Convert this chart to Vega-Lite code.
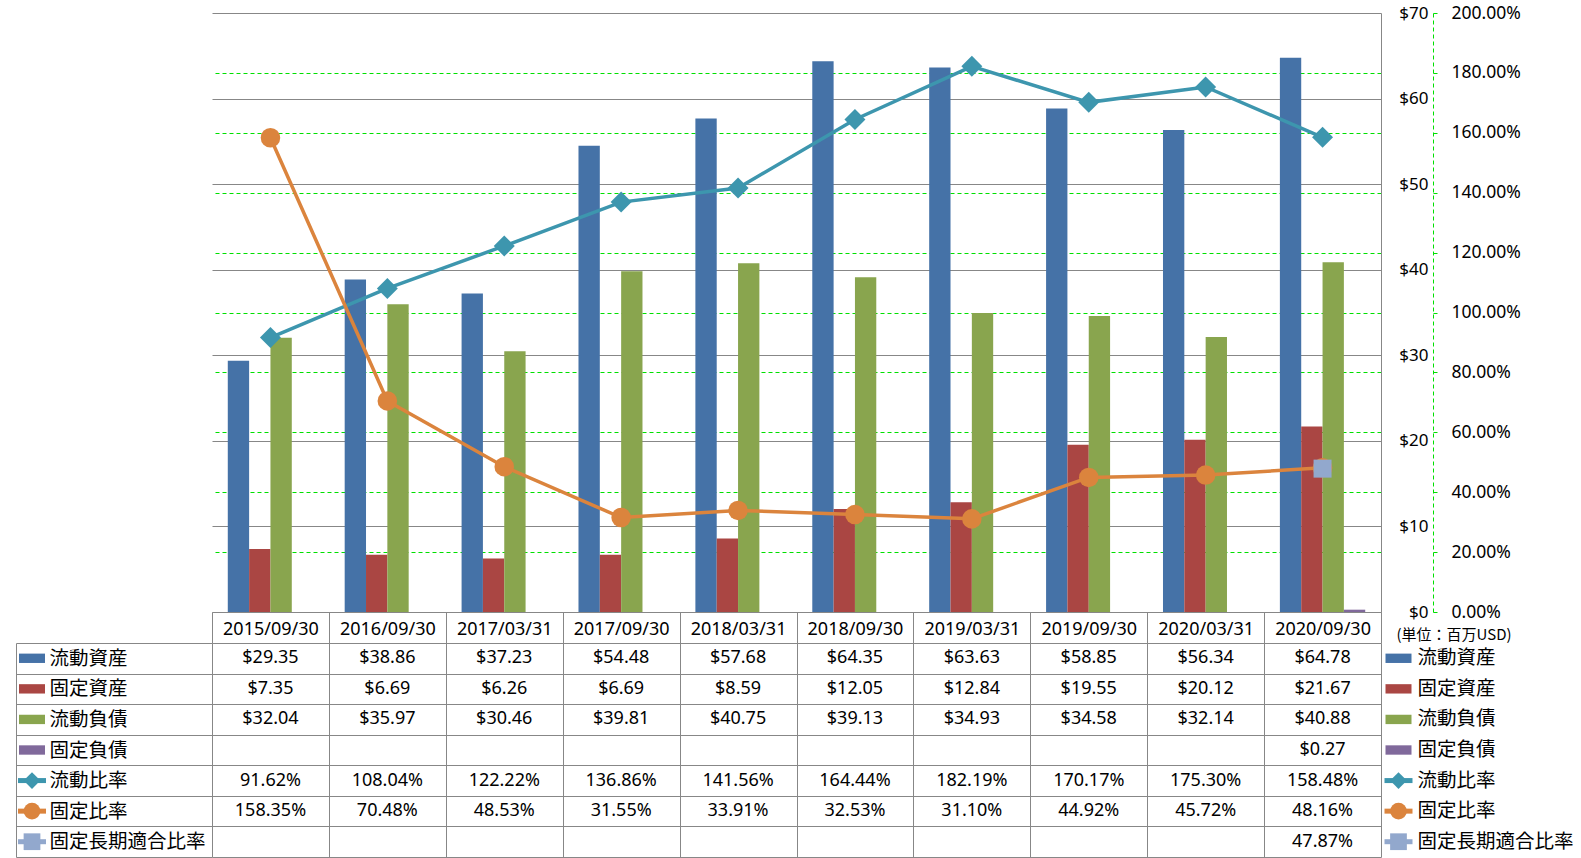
{
  "$schema": "https://vega.github.io/schema/vega-lite/v6.json",
  "padding": {"left": 8, "top": 4, "right": 0, "bottom": 0},
  "background": "white",
  "columns": 3,
  "spacing": 0,
  "bounds": "flush",
  "align": "each",
  "config": {
    "view": {"stroke": null},
    "font": "Noto Sans, Noto Sans CJK JP, sans-serif",
    "axis": {"labelColor": "black", "titleColor": "black", "labelFont": "Noto Sans, Noto Sans CJK JP, sans-serif", "titleFont": "Noto Sans CJK JP, sans-serif"}
  },
  "datasets": {
    "main": [
      {"date": "2015/09/30", "series": "流動資産", "value": 29.35},
      {"date": "2016/09/30", "series": "流動資産", "value": 38.86},
      {"date": "2017/03/31", "series": "流動資産", "value": 37.23},
      {"date": "2017/09/30", "series": "流動資産", "value": 54.48},
      {"date": "2018/03/31", "series": "流動資産", "value": 57.68},
      {"date": "2018/09/30", "series": "流動資産", "value": 64.35},
      {"date": "2019/03/31", "series": "流動資産", "value": 63.63},
      {"date": "2019/09/30", "series": "流動資産", "value": 58.85},
      {"date": "2020/03/31", "series": "流動資産", "value": 56.34},
      {"date": "2020/09/30", "series": "流動資産", "value": 64.78},
      {"date": "2015/09/30", "series": "固定資産", "value": 7.35},
      {"date": "2016/09/30", "series": "固定資産", "value": 6.69},
      {"date": "2017/03/31", "series": "固定資産", "value": 6.26},
      {"date": "2017/09/30", "series": "固定資産", "value": 6.69},
      {"date": "2018/03/31", "series": "固定資産", "value": 8.59},
      {"date": "2018/09/30", "series": "固定資産", "value": 12.05},
      {"date": "2019/03/31", "series": "固定資産", "value": 12.84},
      {"date": "2019/09/30", "series": "固定資産", "value": 19.55},
      {"date": "2020/03/31", "series": "固定資産", "value": 20.12},
      {"date": "2020/09/30", "series": "固定資産", "value": 21.67},
      {"date": "2015/09/30", "series": "流動負債", "value": 32.04},
      {"date": "2016/09/30", "series": "流動負債", "value": 35.97},
      {"date": "2017/03/31", "series": "流動負債", "value": 30.46},
      {"date": "2017/09/30", "series": "流動負債", "value": 39.81},
      {"date": "2018/03/31", "series": "流動負債", "value": 40.75},
      {"date": "2018/09/30", "series": "流動負債", "value": 39.13},
      {"date": "2019/03/31", "series": "流動負債", "value": 34.93},
      {"date": "2019/09/30", "series": "流動負債", "value": 34.58},
      {"date": "2020/03/31", "series": "流動負債", "value": 32.14},
      {"date": "2020/09/30", "series": "流動負債", "value": 40.88},
      {"date": "2020/09/30", "series": "固定負債", "value": 0.27},
      {"date": "2015/09/30", "series": "流動比率", "value": 0.9162},
      {"date": "2016/09/30", "series": "流動比率", "value": 1.0804},
      {"date": "2017/03/31", "series": "流動比率", "value": 1.2222},
      {"date": "2017/09/30", "series": "流動比率", "value": 1.3686},
      {"date": "2018/03/31", "series": "流動比率", "value": 1.4156},
      {"date": "2018/09/30", "series": "流動比率", "value": 1.6444},
      {"date": "2019/03/31", "series": "流動比率", "value": 1.8219},
      {"date": "2019/09/30", "series": "流動比率", "value": 1.7017},
      {"date": "2020/03/31", "series": "流動比率", "value": 1.7530},
      {"date": "2020/09/30", "series": "流動比率", "value": 1.5848},
      {"date": "2015/09/30", "series": "固定比率", "value": 1.5835},
      {"date": "2016/09/30", "series": "固定比率", "value": 0.7048},
      {"date": "2017/03/31", "series": "固定比率", "value": 0.4853},
      {"date": "2017/09/30", "series": "固定比率", "value": 0.3155},
      {"date": "2018/03/31", "series": "固定比率", "value": 0.3391},
      {"date": "2018/09/30", "series": "固定比率", "value": 0.3253},
      {"date": "2019/03/31", "series": "固定比率", "value": 0.3110},
      {"date": "2019/09/30", "series": "固定比率", "value": 0.4492},
      {"date": "2020/03/31", "series": "固定比率", "value": 0.4572},
      {"date": "2020/09/30", "series": "固定比率", "value": 0.4816},
      {"date": "2020/09/30", "series": "固定長期適合比率", "value": 0.4787}
    ],
    "series": [
      {"name": "流動資産", "kind": "bar"},
      {"name": "固定資産", "kind": "bar"},
      {"name": "流動負債", "kind": "bar"},
      {"name": "固定負債", "kind": "bar"},
      {"name": "流動比率", "kind": "line"},
      {"name": "固定比率", "kind": "line"},
      {"name": "固定長期適合比率", "kind": "line"}
    ]
  },
  "concat": [
    {"width": 196, "height": 630, "data": {"values": []}, "mark": "point"},
    {
      "width": 1169,
      "height": 599,
      "data": {"name": "main"},
      "layer": [
        {
          "transform": [{"filter": {"field": "series", "oneOf": ["流動資産", "固定資産", "流動負債", "固定負債"]}}],
          "mark": {"type": "bar"},
          "encoding": {
            "x": {
              "field": "date", "type": "ordinal",
              "scale": {"type": "band", "domain": ["2015/09/30", "2016/09/30", "2017/03/31", "2017/09/30", "2018/03/31", "2018/09/30", "2019/03/31", "2019/09/30", "2020/03/31", "2020/09/30"], "paddingInner": 0, "paddingOuter": 0},
              "axis": {
                "orient": "bottom", "labelAngle": 0, "tickBand": "extent", "tickSize": 31, "tickColor": "#878787",
                "domainColor": "#878787", "labelFontSize": 18, "labelPadding": -23,
                "title": "(単位：百万USD)", "titleFontSize": 15, "titleFontWeight": "normal",
                "titleAlign": "left", "titleBaseline": "middle", "titleX": 1184, "titleY": 22, "titleAngle": 0
              }
            },
            "xOffset": {"field": "series", "type": "nominal", "scale": {"domain": ["流動資産", "固定資産", "流動負債", "固定負債"], "paddingInner": 0, "paddingOuter": 0.74}},
            "y": {
              "field": "value", "type": "quantitative",
              "scale": {"domain": [0, 70], "nice": false},
              "axis": {
                "orient": "right", "values": [0, 10, 20, 30, 40, 50, 60, 70], "labelExpr": "'$' + datum.value",
                "labelAlign": "right", "labelPadding": 47, "ticks": false, "tickSize": 0, "labelFontSize": 17,
                "domain": true, "domainColor": "#878787", "grid": true, "gridColor": "#878787", "title": null
              }
            },
            "color": {
              "field": "series", "type": "nominal", "legend": null,
              "scale": {"domain": ["流動資産", "固定資産", "流動負債", "固定負債", "流動比率", "固定比率", "固定長期適合比率"], "range": ["#4572A7", "#AA4643", "#89A54E", "#80699B", "#3D96AE", "#DB843D", "#92A8CD"]}
            }
          }
        },
        {
          "transform": [{"filter": {"field": "series", "oneOf": ["流動比率", "固定比率", "固定長期適合比率"]}}],
          "encoding": {
            "x": {"field": "date", "type": "ordinal", "scale": {"type": "band", "domain": ["2015/09/30", "2016/09/30", "2017/03/31", "2017/09/30", "2018/03/31", "2018/09/30", "2019/03/31", "2019/09/30", "2020/03/31", "2020/09/30"], "paddingInner": 0, "paddingOuter": 0}},
            "y": {
              "field": "value", "type": "quantitative",
              "scale": {"domain": [0, 2], "nice": false},
              "axis": {
                "orient": "right", "offset": 52, "values": [0, 0.2, 0.4, 0.6, 0.8, 1, 1.2, 1.4, 1.6, 1.8, 2],
                "format": ".2%", "labelFontSize": 17.5, "labelPadding": 14, "tickSize": 4, "tickColor": "#00e000",
                "domainColor": "#00e000", "domainDash": [4, 3], "grid": true, "gridColor": "#00e000", "gridDash": [4, 3],
                "gridOpacity": {"condition": {"test": "datum.value == 0 || datum.value == 2", "value": 0}, "value": 1},
                "title": null
              }
            },
            "color": {
              "field": "series", "type": "nominal", "legend": null,
              "scale": {"domain": ["流動資産", "固定資産", "流動負債", "固定負債", "流動比率", "固定比率", "固定長期適合比率"], "range": ["#4572A7", "#AA4643", "#89A54E", "#80699B", "#3D96AE", "#DB843D", "#92A8CD"]}
            }
          },
          "layer": [
            {"mark": {"type": "line", "strokeWidth": 3.5}},
            {
              "mark": {"type": "point", "filled": true, "opacity": 1},
              "encoding": {
                "shape": {"field": "series", "type": "nominal", "legend": null, "scale": {"domain": ["流動比率", "固定比率", "固定長期適合比率"], "range": ["diamond", "circle", "square"]}},
                "size": {"field": "series", "type": "nominal", "legend": null, "scale": {"domain": ["流動比率", "固定比率", "固定長期適合比率"], "range": [440, 324, 300]}}
              }
            }
          ]
        }
      ],
      "resolve": {"scale": {"y": "independent"}, "axis": {"y": "independent"}}
    },
    {"width": 35, "height": 630, "data": {"values": []}, "mark": "point"},
    {
      "width": 32,
      "height": 214,
      "data": {"name": "series"},
      "encoding": {
        "y": {"field": "name", "type": "nominal", "scale": {"type": "band", "domain": ["流動資産", "固定資産", "流動負債", "固定負債", "流動比率", "固定比率", "固定長期適合比率"], "paddingInner": 0, "paddingOuter": 0},
              "axis": {"orient": "left", "labels": false, "ticks": false, "grid": false, "domain": true, "domainColor": "#878787", "title": null}},
        "color": {"field": "name", "type": "nominal", "legend": null, "scale": {"domain": ["流動資産", "固定資産", "流動負債", "固定負債", "流動比率", "固定比率", "固定長期適合比率"], "range": ["#4572A7", "#AA4643", "#89A54E", "#80699B", "#3D96AE", "#DB843D", "#92A8CD"]}}
      },
      "layer": [
        {"transform": [{"filter": {"field": "kind", "equal": "bar"}}], "mark": {"type": "point", "shape": "M-1,-0.36H1V0.36H-1Z", "size": 676, "filled": true, "opacity": 1}},
        {"transform": [{"filter": {"field": "kind", "equal": "line"}}], "mark": {"type": "point", "shape": "M-1,0H1", "size": 784, "filled": false, "strokeWidth": 5, "opacity": 1}},
        {"transform": [{"filter": {"field": "kind", "equal": "line"}}], "mark": {"type": "point", "filled": true, "opacity": 1, "size": 280},
         "encoding": {"shape": {"field": "name", "type": "nominal", "legend": null, "scale": {"domain": ["流動比率", "固定比率", "固定長期適合比率"], "range": ["diamond", "circle", "square"]}}}}
      ]
    },
    {
      "width": 1169,
      "height": 214,
      "data": {"name": "main"},
      "encoding": {
        "x": {"field": "date", "type": "ordinal",
              "scale": {"type": "band", "domain": ["2015/09/30", "2016/09/30", "2017/03/31", "2017/09/30", "2018/03/31", "2018/09/30", "2019/03/31", "2019/09/30", "2020/03/31", "2020/09/30"], "paddingInner": 0, "paddingOuter": 0},
              "axis": {"orient": "bottom", "labels": false, "ticks": false, "domain": false, "grid": true, "gridColor": "#878787", "tickBand": "extent", "title": null}},
        "y": {"field": "series", "type": "nominal",
              "scale": {"type": "band", "domain": ["流動資産", "固定資産", "流動負債", "固定負債", "流動比率", "固定比率", "固定長期適合比率"], "paddingInner": 0, "paddingOuter": 0},
              "axis": {"orient": "left", "grid": true, "gridColor": "#878787", "tickBand": "extent", "ticks": true, "tickSize": 196, "tickColor": "#878787",
                       "labelAlign": "left", "labelPadding": -33, "labelFontSize": 19.5, "labelFont": "Noto Sans CJK JP", "domain": false, "title": null}}
      },
      "layer": [
        {"transform": [{"filter": {"field": "series", "oneOf": ["流動資産", "固定資産", "流動負債", "固定負債"]}}],
         "mark": {"type": "text", "fontSize": 18, "color": "black"},
         "encoding": {"text": {"field": "value", "type": "quantitative", "format": "$.2f"}}},
        {"transform": [{"filter": {"field": "series", "oneOf": ["流動比率", "固定比率", "固定長期適合比率"]}}],
         "mark": {"type": "text", "fontSize": 18, "color": "black"},
         "encoding": {"text": {"field": "value", "type": "quantitative", "format": ".2%"}}}
      ]
    },
    {
      "width": 35,
      "height": 214,
      "data": {"name": "series"},
      "encoding": {
        "y": {"field": "name", "type": "nominal", "scale": {"type": "band", "domain": ["流動資産", "固定資産", "流動負債", "固定負債", "流動比率", "固定比率", "固定長期適合比率"], "paddingInner": 0, "paddingOuter": 0},
              "axis": {"orient": "right", "labels": true, "ticks": false, "tickSize": 0, "grid": false, "domain": false, "labelPadding": 1, "labelFontSize": 19.5, "labelFont": "Noto Sans CJK JP", "title": null}},
        "color": {"field": "name", "type": "nominal", "legend": null, "scale": {"domain": ["流動資産", "固定資産", "流動負債", "固定負債", "流動比率", "固定比率", "固定長期適合比率"], "range": ["#4572A7", "#AA4643", "#89A54E", "#80699B", "#3D96AE", "#DB843D", "#92A8CD"]}}
      },
      "layer": [
        {"transform": [{"filter": {"field": "kind", "equal": "bar"}}], "mark": {"type": "point", "shape": "M-1,-0.36H1V0.36H-1Z", "size": 676, "filled": true, "opacity": 1}},
        {"transform": [{"filter": {"field": "kind", "equal": "line"}}], "mark": {"type": "point", "shape": "M-1,0H1", "size": 784, "filled": false, "strokeWidth": 5, "opacity": 1}},
        {"transform": [{"filter": {"field": "kind", "equal": "line"}}], "mark": {"type": "point", "filled": true, "opacity": 1, "size": 280},
         "encoding": {"shape": {"field": "name", "type": "nominal", "legend": null, "scale": {"domain": ["流動比率", "固定比率", "固定長期適合比率"], "range": ["diamond", "circle", "square"]}}}}
      ]
    }
  ]
}
